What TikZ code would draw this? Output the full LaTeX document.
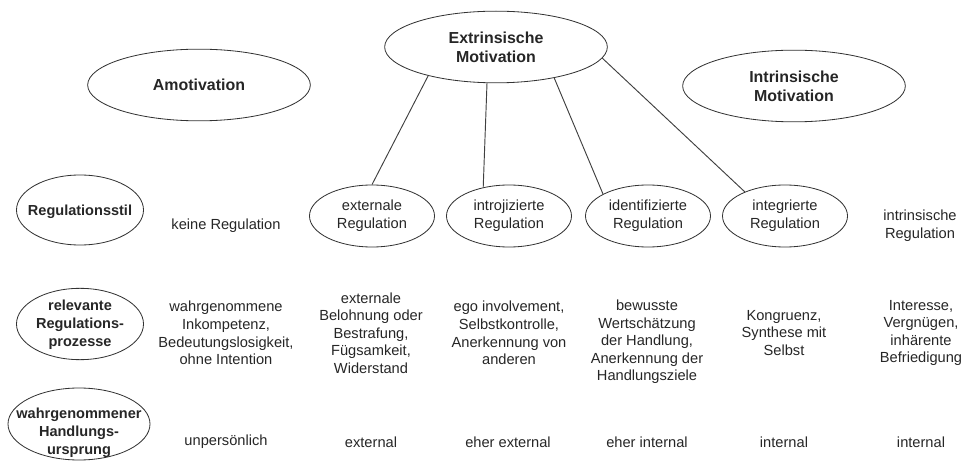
\documentclass[tikz,border=0pt]{standalone}
\usepackage{fontspec}
\setmainfont{Liberation Sans}
\usepackage{tikz}
\usetikzlibrary{arrows,shapes, positioning}

\tikzset{
  oval/.style={draw=black!80, ellipse, inner sep=0pt},
  bigoval/.style={oval, minimum width=6.68cm, minimum height=2.15cm},
  smalloval/.style={oval, minimum width=3.75cm, minimum height=1.86cm},
  rowoval/.style={oval, minimum width=3.81cm, minimum height=2.14cm},
  head/.style={font=\bfseries\fontsize{13.6}{16.2}\selectfont, align=center, text=black!85},
  rowhead/.style={font=\bfseries\fontsize{12.4}{15.4}\selectfont, align=center, text=black!85},
  cell/.style={font=\fontsize{12.5}{15}\selectfont, align=center, text=black!85},
  link/.style={draw=black!75, line width=0.8pt}
}

\begin{document}
\begin{tikzpicture}[x=0.03cm, y=-0.03cm, line width=0.7pt]
\useasboundingbox (0,0) rectangle (962,461);

\node [bigoval, head] (amot) at (199,85) {Amotivation};
\node [bigoval, head] (extr) at (496,47) {Extrinsische\\Motivation};
\node [bigoval, head] (intr) at (794,86) {Intrinsische\\Motivation};

% Regulationsstil
\node [rowoval, minimum height=2.1cm] (stil) at (80,210) {};
\node [rowhead] (stiltext) at (80,212) {Regulationsstil};

\node [cell] (keine) at (226,226) {keine Regulation};
\node [smalloval, cell] (ext) at (372,216) {externale\\Regulation};
\node [smalloval, cell] (intro) at (509,216) {introjizierte\\Regulation};
\node [smalloval, cell] (ident) at (648,216) {identifizierte\\Regulation};
\node [smalloval, cell] (integ) at (785,216) {integrierte\\Regulation};
\node [cell] (intreg) at (920,226) {intrinsische\\Regulation};

\draw [link] (extr.203) -- (ext.90);
\draw [link] (extr.256) -- (intro.132);
\draw [link] (extr.332) -- (ident.154);
\draw [link] (extr.354) -- (integ.149);

% Prozesse
\node [rowoval] (proz) at (80,324) {};
\node [rowhead] (proztext) at (80,325) {relevante\\Regulations-\\prozesse};

\node [cell] (pamot) at (226,333) {wahrgenommene\\Inkompetenz,\\Bedeutungslosigkeit,\\ohne Intention};
\node [cell] (pext) at (371,333) {externale\\Belohnung oder\\Bestrafung,\\Fügsamkeit,\\Widerstand};
\node [cell] (pintro) at (509,333) {ego involvement,\\Selbstkontrolle,\\Anerkennung von\\anderen};
\node [cell] (pident) at (647,342) {bewusste\\Wertschätzung\\der Handlung,\\Anerkennung der\\Handlungsziele};
\node [cell] (pinteg) at (784,333) {Kongruenz,\\Synthese mit\\Selbst};
\node [cell] (pintr) at (921,333) {Interesse,\\Vergnügen,\\inhärente\\Befriedigung};

% Handlungsursprung
\node [rowoval, minimum width=4.26cm, minimum height=2.16cm] (urspr) at (79,424) {};
\node [rowhead] (ursprtext) at (79,433) {wahrgenommener\\Handlungs-\\ursprung};

\node [cell] (uamot) at (226,442) {unpersönlich};
\node [cell] (uext) at (371,442) {external};
\node [cell] (uintro) at (508,442) {eher external};
\node [cell] (uident) at (647,442) {eher internal};
\node [cell] (uinteg) at (784,442) {internal};
\node [cell] (uintr) at (921,442) {internal};
\end{tikzpicture}
\end{document}
